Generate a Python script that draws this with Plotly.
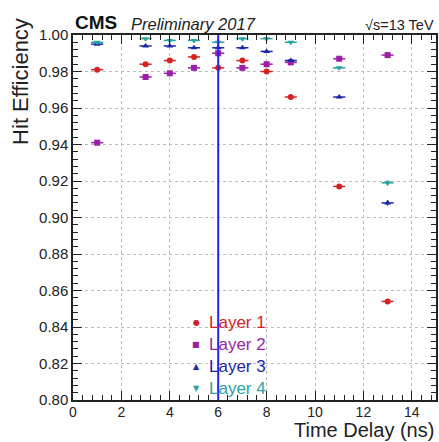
import plotly.graph_objects as go

# Time delay settings (ns)
delay = [1, 3, 4, 5, 6, 7, 8, 9, 11, 13]

# Hit efficiency per barrel layer
layer1 = [0.981, 0.984, 0.986, 0.988, 0.982, 0.986, 0.980, 0.966, 0.917, 0.854]
layer2 = [0.941, 0.977, 0.979, 0.982, 0.990, 0.982, 0.984, 0.985, 0.987, 0.989]
layer3 = [0.995, 0.994, 0.994, 0.993, 0.993, 0.993, 0.991, 0.986, 0.966, 0.908]
layer4 = [0.996, 0.998, 0.997, 0.997, 0.996, 0.998, 0.998, 0.996, 0.982, 0.919]

# Uncertainties
x_err = [0.25] * len(delay)
err1 = [0.0005, 0.0005, 0.0005, 0.0005, 0.0005, 0.0005, 0.0005, 0.0005, 0.0006, 0.0008]
err2 = [0.0006, 0.0005, 0.0005, 0.0005, 0.0005, 0.0005, 0.0005, 0.0005, 0.0005, 0.0005]
err3 = [0.0004, 0.0004, 0.0004, 0.0004, 0.0004, 0.0004, 0.0004, 0.0005, 0.0006, 0.0015]
err4 = [0.0004, 0.0004, 0.0004, 0.0004, 0.0004, 0.0004, 0.0004, 0.0004, 0.0006, 0.0015]

# Chosen working point
working_delay = 6

series = [
    ("Layer 1", layer1, err1, "#d42323", "circle", "●"),
    ("Layer 2", layer2, err2, "#9a1fa6", "square", "■"),
    ("Layer 3", layer3, err3, "#1c27a8", "triangle-up", "▲"),
    ("Layer 4", layer4, err4, "#2aa3a3", "triangle-down", "▼"),
]

font_family = "Liberation Sans, Arial, sans-serif"

fig = go.Figure()
for name, vals, errs, color, symbol, glyph in series:
    fig.add_trace(go.Scatter(
        x=delay, y=vals, mode="markers", name=name, showlegend=False,
        marker=dict(color=color, symbol=symbol, size=6),
        error_x=dict(type="data", array=x_err, color=color, thickness=1.5, width=0),
        error_y=dict(type="data", array=errs, color=color, thickness=1.5, width=0),
    ))

fig.add_shape(type="line", x0=working_delay, x1=working_delay, y0=0.80, y1=1.00,
              xref="x", yref="y", line=dict(color="#2424ee", width=2))

# Legend drawn as coloured labels with small marker glyphs
legend_top = 0.211
legend_step = 0.0595
for i, (name, vals, errs, color, symbol, glyph) in enumerate(series):
    yy = legend_top - i * legend_step
    fig.add_annotation(text=glyph, xref="paper", yref="paper", x=0.340, y=yy,
                       xanchor="center", yanchor="middle", showarrow=False,
                       font=dict(size=8, family="DejaVu Sans", color=color))
    fig.add_annotation(text=name, xref="paper", yref="paper", x=0.368, y=yy,
                       xanchor="left", yanchor="middle", showarrow=False,
                       font=dict(size=17, family=font_family, color=color))

fig.update_layout(
    width=439, height=442,
    margin=dict(l=73, r=1, t=35, b=42),
    paper_bgcolor="white", plot_bgcolor="white",
    font=dict(family=font_family, color="#222222"),
    showlegend=False,
    xaxis=dict(
        range=[0, 15], dtick=2, tick0=0,
        showgrid=True, gridcolor="#bdbdbd", griddash="dot", gridwidth=1,
        showline=True, linecolor="#222222", linewidth=1.5, mirror="ticks",
        ticks="inside", ticklen=9, tickcolor="#222222",
        minor=dict(dtick=0.4, ticks="inside", ticklen=5, tickcolor="#222222", showgrid=False),
        tickfont=dict(size=14), zeroline=False, ticklabelstandoff=-2,
    ),
    yaxis=dict(
        range=[0.80, 1.00], dtick=0.02, tick0=0.80, tickformat=".2f",
        showgrid=True, gridcolor="#bdbdbd", griddash="dot", gridwidth=1,
        showline=True, linecolor="#222222", linewidth=1.5, mirror="ticks",
        ticks="inside", ticklen=9, tickcolor="#222222",
        minor=dict(dtick=0.004, ticks="inside", ticklen=5, tickcolor="#222222", showgrid=False),
        tickfont=dict(size=15), zeroline=False,
    ),
)

# Axis titles placed at the ends of the axes
fig.add_annotation(text="Time Delay (ns)", xref="paper", yref="paper", x=1.0, y=-0.118,
                   xanchor="right", yanchor="bottom", showarrow=False,
                   font=dict(size=20, family=font_family, color="#222222"))
fig.add_annotation(text="Hit Efficiency", xref="paper", yref="paper", x=-0.145, y=1.052,
                   xanchor="center", yanchor="top", textangle=-90, showarrow=False,
                   font=dict(size=22, family=font_family, color="#222222"))

# Header labels
fig.add_annotation(text="<b>CMS</b>", xref="paper", yref="paper", x=0.0, y=1.0,
                   xanchor="left", yanchor="bottom", showarrow=False,
                   font=dict(size=19, family=font_family, color="#111111"))
fig.add_annotation(text="<i>Preliminary 2017</i>", xref="paper", yref="paper", x=0.155, y=1.0,
                   xanchor="left", yanchor="bottom", showarrow=False,
                   font=dict(size=16.5, family=font_family, color="#222222"))
fig.add_annotation(text="√s=13 TeV", xref="paper", yref="paper", x=1.0, y=1.0,
                   xanchor="right", yanchor="bottom", showarrow=False,
                   font=dict(size=14.5, family=font_family, color="#222222"))

fig.write_html("out.html")
